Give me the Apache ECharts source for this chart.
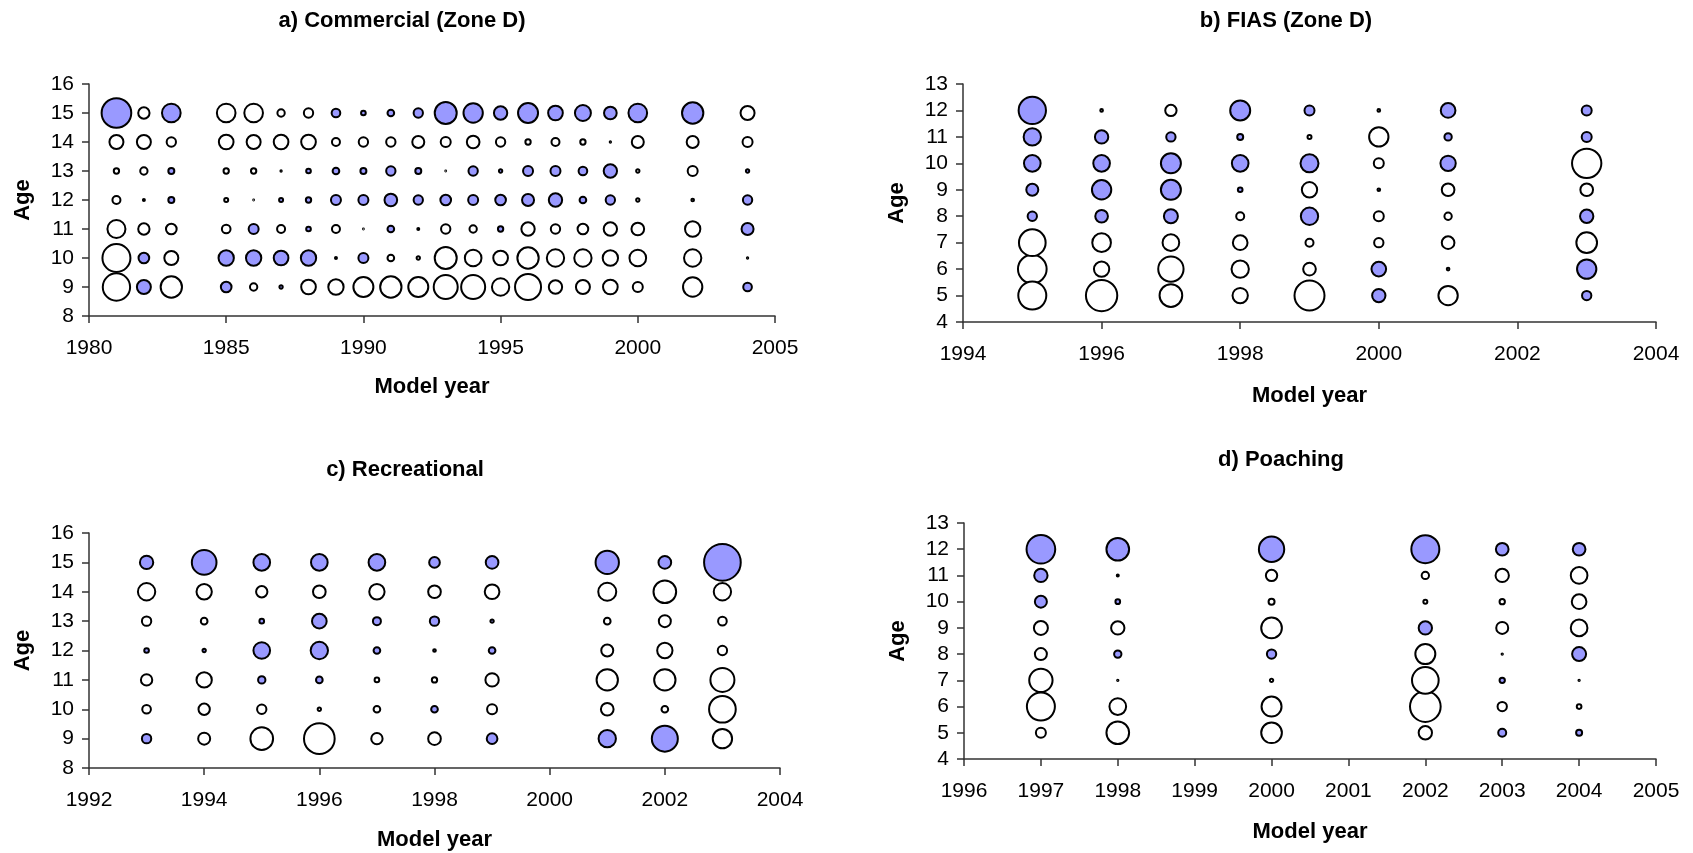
<!DOCTYPE html>
<html>
<head>
<meta charset="utf-8">
<title>Residual bubble plots by model year and age</title>
<script src="https://cdn.jsdelivr.net/npm/echarts@6/dist/echarts.min.js"></script>
<style>
  html, body { margin: 0; padding: 0; background: #ffffff; }
  #chart { width: 1693px; height: 853px; }
</style>
</head>
<body>
<div id="chart"></div>
<script>
// Residuals by model year (columns) and age (rows, listed from oldest to youngest).
// Positive residuals are drawn filled, negative ones open; bubble diameter follows |residual|.

// a) Commercial (Zone D)
const commercialYears = [1981, 1982, 1983, 1985, 1986, 1987, 1988, 1989, 1990, 1991, 1992,
                         1993, 1994, 1995, 1996, 1997, 1998, 1999, 2000, 2002, 2004];
const commercialAges = [15, 14, 13, 12, 11, 10, 9];
const commercialResiduals = [
  [ 9.5, -4.8, -2.2, -3.0, -6.0, -9.0, -8.8],
  [-4.0, -4.8, -2.8, -1.2, -4.0,  3.8,  4.8],
  [ 6.2, -3.4,  2.4,  2.4, -3.8, -4.8, -7.0],
  [-6.2, -5.0, -2.2, -1.8, -3.2,  5.2,  3.8],
  [-6.2, -4.8, -2.2, -0.8,  3.6,  5.2, -2.8],
  [-2.8, -5.0, -1.0,  1.8, -3.0,  5.0,  1.6],
  [-3.4, -5.0,  2.0,  2.2,  2.0,  5.2, -5.0],
  [ 3.2, -3.0,  2.6,  3.6, -3.0, -1.2, -5.2],
  [ 2.0, -3.4,  2.4,  3.6, -0.8,  3.6, -6.6],
  [ 2.6, -3.4,  3.4,  4.4,  2.6, -2.6, -7.0],
  [ 3.4, -4.2,  2.4,  3.4, -1.2, -1.6, -6.6],
  [ 7.2, -3.6, -0.8,  3.8, -3.4, -7.2, -7.8],
  [ 6.4, -4.4,  3.4,  3.6, -2.8, -5.6, -7.8],
  [ 4.6, -3.4,  1.6,  3.8,  2.2, -5.0, -5.8],
  [ 6.6, -2.2,  3.6,  4.2, -4.6, -7.0, -8.4],
  [ 5.0, -3.0,  3.6,  4.6, -3.4, -5.8, -4.6],
  [ 5.4, -2.2,  3.2,  2.6, -3.8, -5.8, -4.8],
  [ 4.4, -1.0,  4.6,  3.4, -4.6, -5.2, -5.0],
  [ 6.2, -4.2, -1.6, -1.6, -4.4, -5.6, -3.6],
  [ 7.0, -4.2, -3.6, -1.4, -5.2, -5.8, -6.4],
  [-4.8, -3.6,  1.6,  3.4,  4.2, -1.0,  3.2]
];

// b) FIAS (Zone D)
const fiasYears = [1995, 1996, 1997, 1998, 1999, 2000, 2001, 2003];
const fiasAges = [12, 11, 10, 9, 8, 7, 6, 5];
const fiasResiduals = [
  [ 8.8,  5.8,  5.6,  4.2,  3.4, -8.6, -9.2, -9.0],
  [-1.4,  4.6,  5.6,  6.4,  4.4, -6.2, -5.2, -10.0],
  [-4.0,  3.4,  6.6,  6.6,  4.8, -5.6, -8.2, -7.4],
  [ 6.6,  2.4,  5.6,  2.0, -3.0, -5.0, -5.8, -5.2],
  [ 3.6, -1.8,  6.0, -5.2,  5.8, -3.0, -4.4, -9.6],
  [-1.4, -6.4, -3.6,  1.4, -3.6, -3.4,  5.0,  4.6],
  [ 5.0,  2.8,  5.2, -4.4, -2.8, -4.4, -1.4, -6.4],
  [ 3.6,  3.6, -9.4, -4.4,  4.6, -6.8,  6.4,  3.4]
];

// c) Recreational
const recreationalYears = [1993, 1994, 1995, 1996, 1997, 1998, 1999, 2001, 2002, 2003];
const recreationalAges = [15, 14, 13, 12, 11, 10, 9];
const recreationalResiduals = [
  [ 4.6, -5.8, -3.4,  2.0, -4.0, -3.2,  3.4],
  [ 8.0, -5.2, -2.6,  1.6, -5.2, -4.0, -4.2],
  [ 5.6, -4.0,  2.0,  5.6,  2.8, -3.4, -7.4],
  [ 5.6, -4.4,  5.0,  5.8,  2.6, -1.6, -9.8],
  [ 5.6, -5.2,  3.0,  2.6, -2.0, -2.6, -4.0],
  [ 3.8, -4.4,  3.4,  1.4, -2.2,  2.6, -4.4],
  [ 4.4, -5.0,  1.6,  2.6, -4.6, -3.6,  3.8],
  [ 7.6, -6.0, -2.6, -4.2, -7.0, -4.4,  5.8],
  [ 4.4, -7.4, -4.2, -5.2, -7.0, -2.6,  8.4],
  [11.6, -5.8, -3.2, -3.4, -7.8, -8.6, -6.4]
];

// d) Poaching
const poachingYears = [1997, 1998, 2000, 2002, 2003, 2004];
const poachingAges = [12, 11, 10, 9, 8, 7, 6, 5];
const poachingResiduals = [
  [ 9.2,  4.6,  4.2, -4.8, -4.2, -7.6, -9.0, -3.6],
  [ 7.4, -1.2,  2.0, -4.6,  2.8, -1.0, -5.6, -7.4],
  [ 8.2, -4.0, -2.4, -6.8,  3.4, -1.6, -6.6, -6.8],
  [ 9.0, -2.8, -1.8,  4.6, -6.6, -8.6, -9.8, -4.6],
  [ 4.4, -4.6, -2.2, -4.2, -1.0,  2.2, -3.4,  3.0],
  [ 4.4, -5.6, -5.0, -5.6,  4.8, -1.0, -2.0,  2.4]
];

// Panel titles and axis ranges
const panelTitles = ['a) Commercial (Zone D)', 'b) FIAS (Zone D)', 'c) Recreational', 'd) Poaching'];
const xRanges = [[1980, 2005, 5], [1994, 2004, 2], [1992, 2004, 2], [1996, 2005, 1]];
const yRanges = [[8, 16, 1], [4, 13, 1], [8, 16, 1], [4, 13, 1]];

// ---- drawing ----
const FONT = '"Liberation Sans", Arial, Helvetica, sans-serif';
const POS_FILL = '#9999FF';
const NEG_FILL = '#FFFFFF';
const EDGE = '#000000';
const BORDER = 2;
const PX_PER_UNIT = 10 / 3;

function toPoints(years, ages, residuals) {
  const pts = [];
  years.forEach((yr, i) => {
    ages.forEach((age, j) => {
      pts.push([yr, age, residuals[i][j]]);
    });
  });
  // large bubbles first so small ones stay visible on top
  pts.sort((p, q) => Math.abs(q[2]) - Math.abs(p[2]));
  return pts;
}

const panels = [
  toPoints(commercialYears, commercialAges, commercialResiduals),
  toPoints(fiasYears, fiasAges, fiasResiduals),
  toPoints(recreationalYears, recreationalAges, recreationalResiduals),
  toPoints(poachingYears, poachingAges, poachingResiduals)
];

const grids = [
  { left: 89,  top: 84,  width: 686, height: 232 },
  { left: 963, top: 84,  width: 693, height: 238 },
  { left: 89,  top: 533, width: 691, height: 235 },
  { left: 964, top: 523, width: 692, height: 236 }
];
const titleCenters = [[402, 10], [1286, 10], [405, 459], [1281, 449]];
const xNameGaps = [60, 63, 61, 62];

const axisLineStyle = { color: '#333333', width: 1.5 };

const option = {
  backgroundColor: '#ffffff',
  animation: false,
  textStyle: { fontFamily: FONT },
  title: panelTitles.map((t, i) => ({
    text: t,
    left: titleCenters[i][0],
    top: titleCenters[i][1],
    textAlign: 'center',
    padding: 0,
    textStyle: { fontFamily: FONT, fontSize: 22, fontWeight: 'bold', color: '#000000' }
  })),
  grid: grids.map(g => Object.assign({ containLabel: false }, g)),
  xAxis: xRanges.map((r, i) => ({
    type: 'value',
    gridIndex: i,
    min: r[0], max: r[1], interval: r[2],
    name: 'Model year',
    nameLocation: 'middle',
    nameGap: xNameGaps[i],
    nameTextStyle: { fontFamily: FONT, fontSize: 22, fontWeight: 'bold', color: '#000000' },
    axisLine: { show: true, onZero: false, lineStyle: axisLineStyle },
    axisTick: { show: true, inside: false, length: 7, lineStyle: axisLineStyle },
    axisLabel: { fontFamily: FONT, fontSize: 21, color: '#000000', margin: 22, formatter: v => String(v) },
    splitLine: { show: false }
  })),
  yAxis: yRanges.map((r, i) => ({
    type: 'value',
    gridIndex: i,
    min: r[0], max: r[1], interval: r[2],
    name: 'Age',
    nameLocation: 'middle',
    nameRotate: 90,
    nameGap: 55,
    nameTextStyle: { fontFamily: FONT, fontSize: 22, fontWeight: 'bold', color: '#000000' },
    axisLine: { show: true, onZero: false, lineStyle: axisLineStyle },
    axisTick: { show: true, inside: false, length: 7, lineStyle: axisLineStyle },
    axisLabel: { fontFamily: FONT, fontSize: 21, color: '#000000', margin: 15, formatter: v => String(v) },
    splitLine: { show: false }
  })),
  series: panels.map((pts, i) => ({
    type: 'scatter',
    xAxisIndex: i,
    yAxisIndex: i,
    data: pts,
    symbol: 'circle',
    symbolSize: v => Math.max(Math.abs(v[2]) * PX_PER_UNIT - BORDER, 0.8),
    itemStyle: {
      color: p => (p.value[2] > 0 ? POS_FILL : NEG_FILL),
      borderColor: EDGE,
      borderWidth: BORDER,
      opacity: 1
    },
    emphasis: { disabled: true }
  }))
};

const chart = echarts.init(document.getElementById('chart'), null, { renderer: 'canvas' });
chart.setOption(option);
</script>
</body>
</html>
